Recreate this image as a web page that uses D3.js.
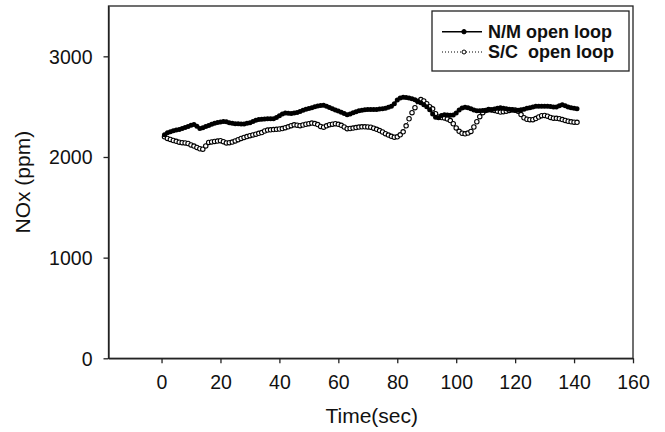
<!DOCTYPE html>
<html>
<head>
<meta charset="utf-8">
<script src="https://cdn.jsdelivr.net/npm/d3@7"></script>
<style>
  html, body { margin: 0; padding: 0; background: #fff; }
  svg text { font-family: "Liberation Sans", Arial, sans-serif; fill: #111; }
</style>
</head>
<body>
<svg id="chart" width="665" height="432"></svg>
<script>
// Time axis (seconds), one sample per second
const time = d3.range(1, 142);

// NOx readings (ppm), N/M open loop
const nmOpenLoop = [
  2220,2240,2250,2260,2268,2274,2282,2292,2304,2316,
  2322,2305,2282,2290,2302,2314,2325,2335,2343,2348,
  2353,2350,2340,2334,2331,2330,2328,2328,2334,2341,
  2352,2364,2372,2375,2378,2379,2380,2381,2392,2410,
  2428,2438,2434,2431,2437,2443,2452,2465,2474,2482,
  2490,2499,2506,2511,2513,2503,2492,2479,2468,2456,
  2444,2432,2420,2428,2439,2450,2460,2465,2470,2471,
  2472,2471,2472,2476,2480,2484,2494,2505,2530,2565,
  2585,2593,2590,2586,2578,2569,2553,2538,2520,2500,
  2470,2428,2396,2390,2412,2420,2416,2414,2418,2438,
  2468,2486,2494,2490,2480,2468,2460,2460,2461,2462,
  2466,2470,2477,2485,2488,2484,2479,2474,2467,2461,
  2465,2469,2474,2483,2490,2497,2503,2504,2504,2505,
  2504,2502,2497,2496,2510,2520,2510,2496,2490,2484,
  2480
];

// NOx readings (ppm), S/C open loop
const scOpenLoop = [
  2200,2184,2174,2164,2156,2147,2142,2140,2134,2120,
  2108,2095,2082,2078,2110,2145,2150,2155,2158,2162,
  2152,2140,2142,2148,2160,2172,2184,2194,2203,2212,
  2219,2227,2235,2243,2258,2267,2270,2272,2275,2278,
  2282,2291,2300,2311,2320,2316,2311,2318,2325,2331,
  2337,2332,2322,2304,2296,2310,2321,2326,2331,2324,
  2315,2298,2281,2283,2287,2292,2297,2300,2300,2299,
  2296,2286,2275,2262,2248,2232,2218,2205,2197,2200,
  2220,2250,2310,2380,2440,2490,2550,2570,2556,2530,
  2500,2478,2430,2398,2392,2388,2378,2362,2330,2289,
  2255,2236,2230,2238,2254,2298,2350,2400,2440,2462,
  2471,2468,2463,2455,2446,2450,2455,2463,2470,2468,
  2455,2421,2390,2375,2371,2371,2382,2397,2410,2413,
  2405,2393,2386,2384,2381,2372,2363,2355,2349,2346,
  2344
];

const xTicks = [0, 20, 40, 60, 80, 100, 120, 140, 160];
const yTicks = [0, 1000, 2000, 3000];
const seriesNames = ["N/M open loop", "S/C  open loop"];

const svg = d3.select("#chart");
const plot = { left: 108.5, right: 633, top: 6, bottom: 358.3 };

const x = d3.scaleLinear().domain([-18, 160]).range([plot.left, plot.right]);
const y = d3.scaleLinear().domain([0, 3500]).range([plot.bottom, plot.top]);

const axisColor = "#222";

// Frame around the plotting area
svg.append("rect")
  .attr("x", plot.left).attr("y", plot.top)
  .attr("width", plot.right - plot.left).attr("height", plot.bottom - plot.top)
  .attr("fill", "none").attr("stroke", axisColor).attr("stroke-width", 1.3);

// Axes
const gx = svg.append("g")
  .attr("transform", `translate(0,${plot.bottom})`)
  .call(d3.axisBottom(x).tickValues(xTicks).tickSize(5).tickSizeOuter(0).tickPadding(12));
const gy = svg.append("g")
  .attr("transform", `translate(${plot.left},0)`)
  .call(d3.axisLeft(y).tickValues(yTicks).tickFormat(d3.format("d")).tickSize(5).tickSizeOuter(0).tickPadding(11));

[gx, gy].forEach(g => {
  g.select(".domain").attr("stroke", axisColor).attr("stroke-width", 1.3);
  g.selectAll(".tick line").attr("stroke", axisColor).attr("stroke-width", 1.3);
  g.selectAll(".tick text").attr("font-size", 19.5).attr("fill", "#111")
    .style("font-family", "'Liberation Sans', Arial, sans-serif");
});
gy.selectAll(".tick text").attr("dy", "0.35em");

// Axis titles
svg.append("text")
  .attr("x", (plot.left + plot.right) / 2 + 1).attr("y", 423)
  .attr("text-anchor", "middle").attr("font-size", 21)
  .text("Time(sec)");
svg.append("text")
  .attr("transform", `translate(29.5,${(plot.top + plot.bottom) / 2}) rotate(-90)`)
  .attr("text-anchor", "middle").attr("font-size", 21)
  .text("NOx (ppm)");

const nmData = time.map((t, i) => ({ t, v: nmOpenLoop[i] }));
const scData = time.map((t, i) => ({ t, v: scOpenLoop[i] }));

const line = d3.line().x(d => x(d.t)).y(d => y(d.v));

// S/C series: dotted line with open circles
svg.append("path").datum(scData)
  .attr("d", line).attr("fill", "none")
  .attr("stroke", "#000").attr("stroke-width", 1).attr("stroke-dasharray", "1,2");
svg.append("g").selectAll("circle").data(scData).join("circle")
  .attr("cx", d => x(d.t)).attr("cy", d => y(d.v)).attr("r", 2.2)
  .attr("fill", "#fff").attr("stroke", "#000").attr("stroke-width", 1.1);

// N/M series: solid line with filled circles
svg.append("path").datum(nmData)
  .attr("d", line).attr("fill", "none")
  .attr("stroke", "#000").attr("stroke-width", 2);
svg.append("g").selectAll("circle").data(nmData).join("circle")
  .attr("cx", d => x(d.t)).attr("cy", d => y(d.v)).attr("r", 2.5)
  .attr("fill", "#000");

// Legend
const legend = svg.append("g");
legend.append("rect")
  .attr("x", 432).attr("y", 11).attr("width", 197).attr("height", 60)
  .attr("fill", "#fff").attr("stroke", axisColor).attr("stroke-width", 1.3);

const legendRows = [
  { name: seriesNames[0], y: 31.7, dashed: false },
  { name: seriesNames[1], y: 52, dashed: true }
];
legendRows.forEach(r => {
  legend.append("line")
    .attr("x1", 442).attr("x2", 482).attr("y1", r.y).attr("y2", r.y)
    .attr("stroke", "#000").attr("stroke-width", r.dashed ? 1 : 1.5)
    .attr("stroke-dasharray", r.dashed ? "1,2" : null);
  legend.append("circle")
    .attr("cx", 464).attr("cy", r.y).attr("r", r.dashed ? 2 : 2.2)
    .attr("fill", r.dashed ? "#fff" : "#000")
    .attr("stroke", "#000").attr("stroke-width", 1);
  legend.append("text")
    .attr("x", 488).attr("y", r.y + 6)
    .attr("font-size", 18).attr("font-weight", "bold")
    .style("white-space", "pre")
    .text(r.name);
});
</script>
</body>
</html>
